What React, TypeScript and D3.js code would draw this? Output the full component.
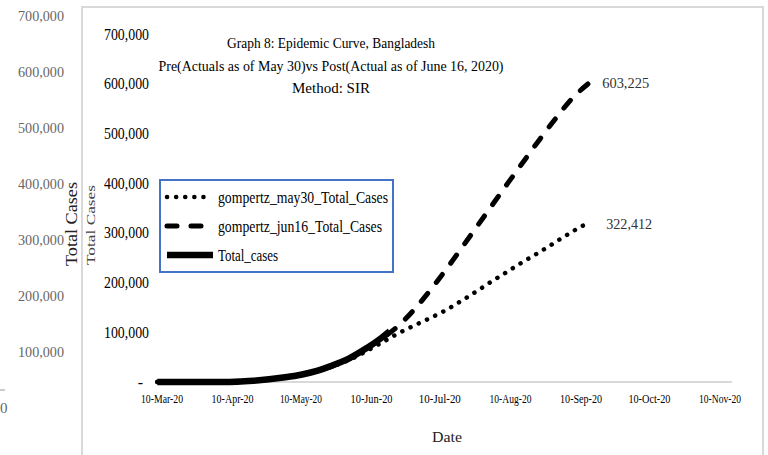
import * as d3 from "d3";

const W = 768;
const H = 455;
const FONT = "'Liberation Serif', 'Times New Roman', serif";

// actual cumulative cases (solid)
const actualDates = ["2020-03-08", "2020-03-15", "2020-03-22", "2020-03-29", "2020-04-05", "2020-04-12", "2020-04-19", "2020-04-26", "2020-05-03", "2020-05-10", "2020-05-17", "2020-05-24", "2020-05-31", "2020-06-07", "2020-06-14", "2020-06-18"];
const actualCases = [3, 5, 27, 48, 88, 621, 2456, 5416, 9455, 14657, 22268, 33610, 47153, 65769, 87520, 102292];

// forecast fitted on data up to May 30 (dotted)
const may30Dates = ["2020-03-08", "2020-03-22", "2020-04-05", "2020-04-19", "2020-05-03", "2020-05-17", "2020-05-31", "2020-06-14", "2020-06-21", "2020-06-28", "2020-07-05", "2020-07-12", "2020-07-19", "2020-07-26", "2020-08-02", "2020-08-09", "2020-08-16", "2020-08-23", "2020-08-30", "2020-09-06", "2020-09-14"];
const may30Cases = [50, 200, 800, 2800, 9000, 22000, 44000, 78000, 96000, 112000, 127000, 143000, 162000, 182000, 203000, 223000, 243000, 262000, 282000, 302000, 322412];

// forecast fitted on data up to June 16 (dashed)
const jun16Dates = ["2020-03-08", "2020-03-22", "2020-04-05", "2020-04-19", "2020-05-03", "2020-05-17", "2020-05-31", "2020-06-14", "2020-06-21", "2020-06-28", "2020-07-05", "2020-07-12", "2020-07-19", "2020-07-26", "2020-08-02", "2020-08-09", "2020-08-16", "2020-08-23", "2020-08-30", "2020-09-06", "2020-09-14"];
const jun16Cases = [50, 200, 800, 2800, 9000, 22000, 46000, 86000, 110000, 142000, 180000, 222000, 266000, 311000, 356000, 401000, 445000, 489000, 531000, 570000, 603225];

const xTickLabels = ["10-Mar-20", "10-Apr-20", "10-May-20", "10-Jun-20", "10-Jul-20", "10-Aug-20", "10-Sep-20", "10-Oct-20", "10-Nov-20"];
const yTicks = [0, 100000, 200000, 300000, 400000, 500000, 600000, 700000];
const titleLines = ["Graph 8: Epidemic Curve, Bangladesh", "Pre(Actuals as of May 30)vs Post(Actual as of June 16, 2020)", "Method: SIR"];
const seriesNames = ["gompertz_may30_Total_Cases", "gompertz_jun16_Total_Cases", "Total_cases"];

interface Pt {
    date: Date;
    value: number;
}

const parseDay = d3.timeParse("%Y-%m-%d");
const parseTick = d3.timeParse("%d-%b-%y");
const fmt = d3.format(",");

function toPoints(dates: string[], values: number[]): Pt[] {
    return dates.map((d, i) => ({ date: parseDay(d) as Date, value: values[i] }));
}

export default function App() {
    const tickDates = xTickLabels.map((t) => parseTick(t) as Date);

    const xScale = d3
        .scaleTime()
        .domain([tickDates[0], tickDates[tickDates.length - 1]])
        .range([162, 720]);
    const yScale = d3.scaleLinear().domain([0, 700000]).range([382, 34]);
    // the ghost axis of the chart behind
    const yOuter = d3.scaleLinear().domain([0, 700000]).range([408, 16]);

    const line = d3
        .line<Pt>()
        .x((d) => xScale(d.date))
        .y((d) => yScale(d.value))
        .curve(d3.curveMonotoneX);

    const actual = toPoints(actualDates, actualCases);
    const may30 = toPoints(may30Dates, may30Cases);
    const jun16 = toPoints(jun16Dates, jun16Cases);
    const may30Last = may30[may30.length - 1];
    const jun16Last = jun16[jun16.length - 1];

    const dotted = { stroke: "#000", strokeWidth: 4.5, strokeDasharray: "0.1 9", strokeLinecap: "round" as const };
    const dashed = { stroke: "#000", strokeWidth: 5, strokeDasharray: "10 14", strokeLinecap: "round" as const };
    const solid = { stroke: "#000", strokeWidth: 6.5, strokeLinecap: "butt" as const };

    const legendY = [197, 226, 255];
    const legendStyles = [dotted, dashed, solid];

    return (
        <svg
            width={W}
            height={H}
            style={{ position: "absolute", left: 0, top: 0, background: "#fff" }}
            fontFamily={FONT}
        >
            {/* ghost chart behind */}
            {yTicks.map((t) => (
                <text
                    key={"o" + t}
                    x={t === 0 ? 0 : 64}
                    y={yOuter(t)}
                    dy="0.35em"
                    textAnchor={t === 0 ? "start" : "end"}
                    fontSize={15}
                    fill="#666"
                    textLength={t === 0 ? undefined : 46}
                    lengthAdjust="spacingAndGlyphs"
                >
                    {fmt(t)}
                </text>
            ))}
            <line x1={0} x2={5} y1={390} y2={390} stroke="#bbb" strokeWidth={1.5} />
            <text
                transform="translate(77,224) rotate(-90)"
                textAnchor="middle"
                fontSize={16}
                fill="#222"
                textLength={84}
                lengthAdjust="spacingAndGlyphs"
            >
                Total Cases
            </text>

            {/* frame */}
            <path d={`M82,${H} V7 H763 V${H}`} fill="none" stroke="#d9d9d9" strokeWidth={2} />

            <text
                transform="translate(95,225) rotate(-90)"
                textAnchor="middle"
                fontSize={12}
                fill="#444"
                textLength={80}
                lengthAdjust="spacingAndGlyphs"
            >
                Total Cases
            </text>

            {/* title */}
            {titleLines.map((t, i) => (
                <text
                    key={t}
                    x={331}
                    y={43 + i * 22.5}
                    dy="0.35em"
                    textAnchor="middle"
                    fontSize={15}
                    fill="#000"
                    textLength={[208, 345, 78][i]}
                    lengthAdjust="spacingAndGlyphs"
                >
                    {t}
                </text>
            ))}

            {/* y axis labels */}
            {yTicks.map((t) => (
                <text
                    key={"y" + t}
                    x={t === 0 ? 143 : 149}
                    y={yScale(t)}
                    dy="0.35em"
                    textAnchor="end"
                    fontSize={16}
                    fill="#000"
                    textLength={t === 0 ? undefined : 45}
                    lengthAdjust="spacingAndGlyphs"
                >
                    {t === 0 ? "-" : fmt(t)}
                </text>
            ))}

            {/* x axis */}
            <line x1={157} x2={732} y1={yScale(0)} y2={yScale(0)} stroke="#d9d9d9" strokeWidth={2} />
            {tickDates.map((d, i) => (
                <text
                    key={xTickLabels[i]}
                    x={xScale(d)}
                    y={398}
                    dy="0.35em"
                    textAnchor="middle"
                    fontSize={13}
                    fill="#000"
                    textLength={42}
                    lengthAdjust="spacingAndGlyphs"
                >
                    {xTickLabels[i]}
                </text>
            ))}
            <text x={447} y={437} dy="0.35em" textAnchor="middle" fontSize={15} fill="#222" textLength={30} lengthAdjust="spacingAndGlyphs">
                Date
            </text>

            {/* series */}
            <path d={line(may30) as string} fill="none" {...dotted} />
            <path d={line(jun16) as string} fill="none" {...dashed} />
            <path d={line(actual) as string} fill="none" {...solid} />

            {/* end labels */}
            <text x={xScale(jun16Last.date) + 12} y={yScale(jun16Last.value) + 1} dy="0.35em" fontSize={15} fill="#333" textLength={47} lengthAdjust="spacingAndGlyphs">
                {fmt(jun16Last.value)}
            </text>
            <text x={xScale(may30Last.date) + 16} y={yScale(may30Last.value) + 2} dy="0.35em" fontSize={15} fill="#333" textLength={46} lengthAdjust="spacingAndGlyphs">
                {fmt(may30Last.value)}
            </text>

            {/* legend */}
            <rect x={160} y={180} width={233} height={92} fill="#fff" stroke="#4472C4" strokeWidth={2} />
            {seriesNames.map((name, i) => (
                <g key={name}>
                    <line x1={167} x2={i === 2 ? 213 : 212} y1={legendY[i]} y2={legendY[i]} {...legendStyles[i]} />
                    <text
                        x={218}
                        y={legendY[i]}
                        dy="0.35em"
                        fontSize={16}
                        fill="#000"
                        textLength={[170, 164, 60][i]}
                        lengthAdjust="spacingAndGlyphs"
                    >
                        {name}
                    </text>
                </g>
            ))}
        </svg>
    );
}
